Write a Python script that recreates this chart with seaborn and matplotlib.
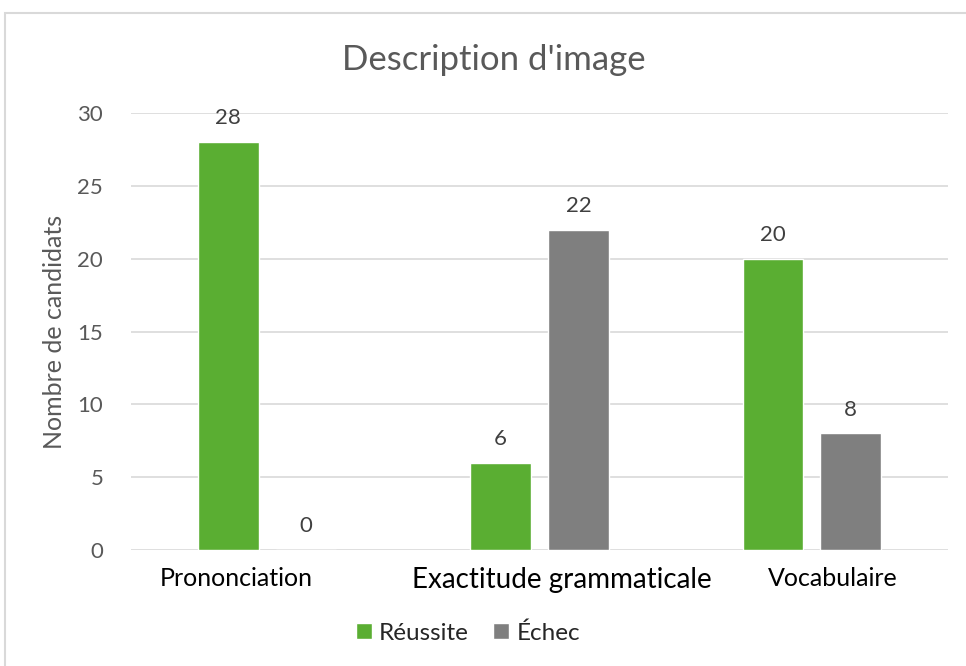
import matplotlib
matplotlib.use("Agg")
import matplotlib.pyplot as plt
import matplotlib.transforms as mtransforms
from matplotlib.patches import Rectangle, Patch
import seaborn as sns
import pandas as pd

categories = ["Prononciation", "Exactitude grammaticale", "Vocabulaire"]
reussite = [28, 6, 20]
echec = [0, 22, 8]
series = ["Réussite", "Échec"]
colors = {"Réussite": "#5AAE32", "Échec": "#7F7F7F"}

df = pd.DataFrame({
    "categorie": categories * 2,
    "resultat": [series[0]] * 3 + [series[1]] * 3,
    "valeur": reussite + echec,
})

sns.set_style("white")
plt.rcParams["font.family"] = ["Lato", "DejaVu Sans"]

fig = plt.figure(figsize=(9.66, 6.66), dpi=100)
ax = fig.add_axes([131 / 966, 1 - 550 / 666, (948 - 131) / 966, (550 - 113) / 666])

sns.barplot(data=df, x="categorie", y="valeur", hue="resultat", palette=colors,
            width=0.572, gap=0.22, ax=ax, legend=False, saturation=1)

ax.set_ylim(0, 30)
ax.set_xlim(-0.5, 2.5)
ax.set_yticks(range(0, 31, 5))
ax.yaxis.grid(True, color="#D9D9D9", linewidth=1.2)
ax.set_axisbelow(True)
for s in ax.spines.values():
    s.set_visible(False)
ax.tick_params(axis="both", length=0)
ax.tick_params(axis="y", pad=20, labelsize=16, labelcolor="#595959")
ax.tick_params(axis="x", pad=12, labelsize=18, labelcolor="#000000")
ax.set_xlabel("")
ax.set_ylabel("Nombre de candidats", fontsize=18, color="#595959", labelpad=8)

# decalage des etiquettes comme dans l'original
offsets = [-31, 22, 21]
for lab, dx in zip(ax.get_xticklabels(), offsets):
    lab.set_transform(lab.get_transform() +
                      mtransforms.ScaledTranslation(dx / 100, 0, fig.dpi_scale_trans))
ax.get_xticklabels()[1].set_fontsize(20)

for cont in ax.containers:
    ax.bar_label(cont, padding=10, fontsize=16, color="#404040")

fig.text(494 / 966, 1 - 60 / 666, "Description d'image", ha="center", va="center",
         fontsize=25, color="#595959")

handles = [Patch(facecolor=colors[s], label=s) for s in series]
fig.legend(handles=handles, loc="center", bbox_to_anchor=(468 / 966, 1 - 633 / 666),
           ncol=2, frameon=False, fontsize=17.5, handlelength=0.65, handleheight=0.65,
           handletextpad=0.3, columnspacing=1.0)

fig.patches.append(Rectangle((5 / 966, -0.1), 1.2, 1 - 13 / 666 + 0.1,
                             transform=fig.transFigure, fill=False,
                             edgecolor="#D9D9D9", linewidth=1.5))

fig.savefig("out.png", dpi=100)
